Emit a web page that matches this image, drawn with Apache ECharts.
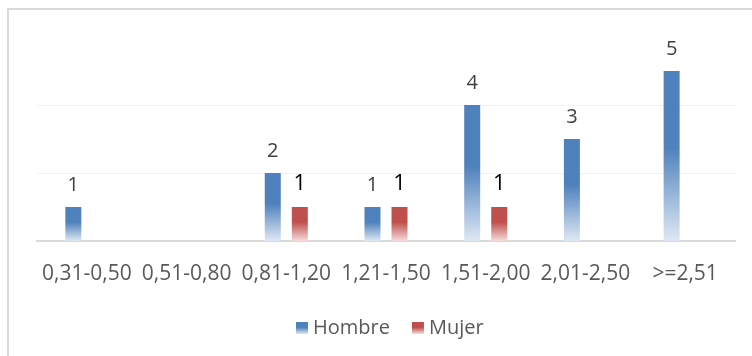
<!DOCTYPE html>
<html>
<head>
<meta charset="utf-8">
<script src="https://cdn.jsdelivr.net/npm/echarts@6/dist/echarts.min.js"></script>
<style>
  html, body { margin: 0; padding: 0; background: #fff; }
  #chart { width: 752px; height: 356px; }
</style>
</head>
<body>
<div id="chart"></div>
<script>
// Rangos de valores y número de casos por sexo
const categories = ['0,31-0,50', '0,51-0,80', '0,81-1,20', '1,21-1,50', '1,51-2,00', '2,01-2,50', '>=2,51'];
const hombre = [1, null, 2, 1, 4, 3, 5];
const mujer = [null, null, 1, 1, 1, null, null];
const yTicks = { min: 0, max: 6, interval: 2 };

const FONT = 'Open Sans';

function fade(top, bottom) {
  return new echarts.graphic.LinearGradient(0, 0, 0, 1, [
    { offset: 0, color: top },
    { offset: 0.45, color: top },
    { offset: 1, color: bottom }
  ]);
}

const chart = echarts.init(document.getElementById('chart'), null, { renderer: 'canvas' });

chart.setOption({
  animation: false,
  backgroundColor: '#ffffff',
  graphic: [{
    type: 'rect',
    shape: { x: 8, y: 9, width: 800, height: 400 },
    style: { fill: 'none', stroke: '#d9d9d9', lineWidth: 2 },
    silent: true,
    z: 100
  }],
  grid: { left: 37, right: 17, top: 37, bottom: 115 },
  legend: {
    left: 291,
    top: 313,
    itemWidth: 12,
    itemHeight: 12,
    itemGap: 22,
    icon: 'rect',
    textStyle: { fontFamily: FONT, fontSize: 20, color: '#595959' },
    data: ['Hombre', 'Mujer']
  },
  xAxis: {
    type: 'category',
    data: categories,
    axisLine: { lineStyle: { color: '#d9d9d9', width: 2 } },
    axisTick: { show: false },
    axisLabel: {
      interval: 0,
      margin: 23,
      fontFamily: FONT,
      fontSize: 21,
      color: '#595959'
    }
  },
  yAxis: {
    type: 'value',
    min: yTicks.min,
    max: yTicks.max,
    interval: yTicks.interval,
    axisLine: { show: false },
    axisTick: { show: false },
    axisLabel: { show: false },
    splitLine: {
      lineStyle: { color: ['#f0f0f0', '#f0f0f0', '#f0f0f0', 'rgba(0,0,0,0)'], width: 1 }
    }
  },
  series: [
    {
      name: 'Hombre',
      type: 'bar',
      data: hombre,
      barWidth: 16,
      barGap: '69%',
      itemStyle: { color: fade('#4f81bd', '#dfe8f4') },
      label: {
        show: true,
        position: 'top',
        distance: 12,
        fontFamily: FONT,
        fontSize: 20,
        color: '#404040'
      }
    },
    {
      name: 'Mujer',
      type: 'bar',
      data: mujer,
      barWidth: 16,
      itemStyle: { color: fade('#c0504d', '#f6dcdc') },
      label: {
        show: true,
        position: 'top',
        distance: 12,
        fontFamily: FONT,
        fontSize: 22,
        color: '#000000'
      }
    }
  ]
});
</script>
</body>
</html>
